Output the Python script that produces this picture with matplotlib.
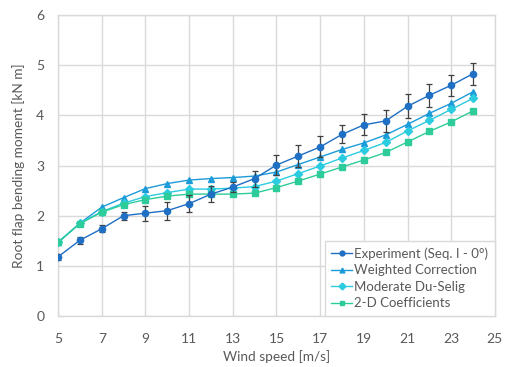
import matplotlib.pyplot as plt
import numpy as np
from matplotlib.lines import Line2D

plt.rcParams['font.family'] = ['Lato', 'DejaVu Sans']

wind = [5, 6, 7, 8, 9, 10, 11, 12, 13, 14, 15, 16, 17, 18, 19, 20, 21, 22, 23, 24]

experiment = [1.18, 1.51, 1.74, 2.00, 2.05, 2.10, 2.24, 2.43, 2.57, 2.74, 3.01, 3.19, 3.37,
              3.62, 3.81, 3.89, 4.18, 4.40, 4.60, 4.83]
experiment_err = [0.06, 0.07, 0.07, 0.08, 0.15, 0.18, 0.17, 0.16, 0.10, 0.16, 0.20, 0.21, 0.21,
                  0.18, 0.21, 0.22, 0.24, 0.23, 0.21, 0.22]
weighted = [1.47, 1.85, 2.17, 2.36, 2.54, 2.64, 2.71, 2.74, 2.76, 2.79, 2.87, 3.02, 3.17,
            3.32, 3.45, 3.61, 3.82, 4.04, 4.24, 4.47]
moderate = [1.47, 1.85, 2.08, 2.25, 2.38, 2.46, 2.53, 2.53, 2.55, 2.58, 2.69, 2.84, 2.99,
            3.15, 3.30, 3.46, 3.69, 3.90, 4.12, 4.34]
coeff_2d = [1.47, 1.84, 2.07, 2.22, 2.32, 2.39, 2.43, 2.43, 2.43, 2.45, 2.56, 2.69, 2.83,
            2.97, 3.11, 3.26, 3.47, 3.68, 3.87, 4.09]

labels = ['Experiment (Seq. I - 0°)', 'Weighted Correction', 'Moderate Du-Selig', '2-D Coefficients']
colors = ['#1F6FC5', '#1C9BD9', '#2BCBE0', '#2ECC9A']
markers = ['o', '^', 'D', 's']
text_color = '#595959'
grid_color = '#D9D9D9'

fig = plt.figure(figsize=(5.05, 3.67), dpi=100)
ax = fig.add_axes([0.115, 0.139, 0.865, 0.820])

# model curves
ax.plot(wind, weighted, color=colors[1], marker='^', ms=4.5, lw=1, zorder=3)
ax.plot(wind, moderate, color=colors[2], marker='D', ms=4, lw=1, zorder=3)
ax.plot(wind, coeff_2d, color=colors[3], marker='s', ms=4, lw=1, zorder=3)

# experiment with error bars
ax.errorbar(wind, experiment, yerr=experiment_err, color=colors[0], marker='o', ms=4.5, lw=1,
            ecolor='#404040', elinewidth=0.9, capsize=2.2, capthick=0.9, zorder=4)

ax.set_xlim(5, 25)
ax.set_ylim(0, 6)
ax.set_xticks(np.arange(5, 26, 2))
ax.set_yticks(np.arange(0, 7, 1))
ax.grid(True, color=grid_color, lw=1)
ax.set_axisbelow(True)
for s in ax.spines.values():
    s.set_color(grid_color)
    s.set_linewidth(1)
ax.tick_params(length=0, labelsize=10, labelcolor=text_color)
ax.tick_params(axis='x', pad=12)
ax.tick_params(axis='y', pad=10)

ax.set_xlabel('Wind speed [m/s]', fontsize=9.8, color=text_color, labelpad=4)
ax.set_ylabel('Root flap bending moment [kN m]', fontsize=9.8, color=text_color, labelpad=8)

# legend handles without error bars
handles = [Line2D([], [], color=c, marker=m, ms=3.5, lw=1) for c, m in zip(colors, markers)]
leg = ax.legend(handles, labels, loc='lower right', borderaxespad=0, fontsize=9.5,
                frameon=True, fancybox=False, edgecolor=grid_color, framealpha=1,
                handlelength=1.6, handletextpad=0.15, labelspacing=0.34,
                borderpad=0.5)
leg.get_frame().set_linewidth(1)
for t in leg.get_texts():
    t.set_color(text_color)

fig.savefig('out.png', dpi=100)
